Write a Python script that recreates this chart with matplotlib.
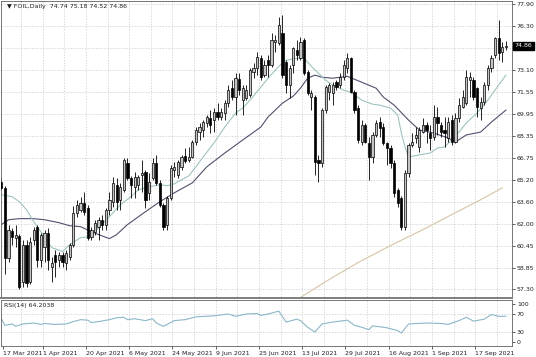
import matplotlib
matplotlib.use("Agg")
import matplotlib.pyplot as plt
from matplotlib.patches import Rectangle
import numpy as np

# ---------------- data ----------------
opens = [65.05, 64.62, 59.60, 61.53, 61.03, 61.18, 57.80, 60.53, 57.87, 60.89,
         61.82, 59.45, 60.39, 61.39, 58.88, 59.81, 59.45, 59.81, 59.24, 59.67,
         60.53, 62.83, 63.04, 63.55, 63.19, 61.10, 61.46, 61.82, 62.32, 61.97,
         63.04, 63.62, 64.84, 63.76, 64.48, 66.42, 65.34, 64.69, 64.84, 65.56,
         65.77, 64.26, 65.34, 66.42, 64.98, 63.40, 61.97, 63.90, 65.91, 65.56,
         66.13, 66.92, 66.63, 66.85, 67.92, 68.64, 68.79, 69.29, 69.65, 69.50,
         70.08, 69.72, 70.01, 70.72, 71.80, 71.16, 72.45, 70.94, 71.08, 71.30,
         72.95, 73.24, 73.96, 72.74, 73.81, 73.45, 75.10, 75.03, 75.75, 73.67,
         72.02, 73.45, 74.53, 73.96, 75.25, 72.95, 71.16, 71.16, 66.63, 66.42,
         70.22, 71.51, 71.44, 72.23, 72.02, 72.59, 73.24, 73.96, 71.51, 70.37,
         67.92, 69.15, 67.85, 66.85, 68.43, 69.36, 69.00, 67.85, 67.49, 66.42,
         64.48, 63.90, 61.82, 65.70, 67.71, 68.21, 67.57, 68.64, 69.15, 68.57,
         68.28, 69.72, 69.15, 68.79, 68.21, 69.50, 67.92, 69.65, 70.44, 70.72,
         72.38, 72.38, 71.80, 70.37, 70.80, 72.02, 73.24, 74.17, 75.39, 74.39,
         74.74]
highs = [65.41, 64.77, 61.97, 61.75, 61.97, 61.32, 60.89, 60.89, 61.10, 61.82,
         61.97, 61.39, 61.61, 61.75, 59.67, 60.17, 60.03, 60.03, 60.17, 60.67,
         63.33, 63.76, 63.98, 64.33, 63.40, 61.82, 62.32, 62.54, 62.68, 63.19,
         64.33, 65.41, 65.34, 64.98, 66.78, 66.78, 65.48, 65.77, 65.56, 66.63,
         65.91, 65.70, 66.78, 66.99, 65.20, 63.55, 64.05, 66.27, 66.49, 66.63,
         66.99, 67.49, 67.57, 68.07, 69.00, 69.29, 69.50, 69.86, 70.22, 70.37,
         70.72, 70.37, 70.94, 72.02, 72.38, 72.88, 72.88, 72.02, 72.02, 73.24,
         73.60, 74.39, 74.17, 73.81, 74.17, 75.75, 75.61, 76.90, 77.04, 73.81,
         73.45, 74.75, 75.25, 75.46, 75.39, 73.09, 71.66, 71.30, 66.99, 70.37,
         72.02, 72.16, 72.23, 72.38, 72.88, 73.81, 74.31, 74.03, 71.66, 70.58,
         69.50, 69.29, 68.28, 68.64, 69.50, 69.72, 69.29, 67.92, 67.71, 66.63,
         64.62, 64.05, 65.91, 67.85, 68.57, 69.00, 69.00, 69.65, 69.36, 69.15,
         70.58, 70.44, 69.36, 69.72, 69.72, 69.86, 70.01, 71.08, 71.66, 73.09,
         72.95, 72.59, 71.87, 71.16, 72.23, 73.45, 74.17, 75.46, 76.68, 75.10,
         75.18]
lows = [64.48, 58.38, 59.31, 60.53, 60.39, 57.30, 57.44, 57.44, 57.66, 60.53,
        58.88, 58.88, 59.31, 58.73, 57.80, 58.23, 58.95, 58.88, 58.73, 59.45,
        60.39, 62.54, 62.90, 62.68, 60.89, 60.89, 61.25, 60.89, 61.61, 61.61,
        62.68, 63.26, 63.04, 63.04, 64.33, 65.20, 63.90, 63.90, 64.48, 64.33,
        63.19, 63.76, 65.20, 64.84, 63.26, 61.61, 61.61, 63.76, 65.41, 65.34,
        65.91, 66.42, 66.49, 66.78, 67.71, 68.07, 68.28, 69.00, 68.57, 68.64,
        69.50, 69.50, 69.50, 70.44, 70.94, 69.86, 71.30, 69.86, 70.94, 71.16,
        72.52, 72.74, 72.38, 72.59, 72.59, 73.31, 74.39, 74.89, 72.52, 71.44,
        71.08, 72.88, 73.81, 73.81, 72.74, 71.30, 70.22, 65.56, 65.05, 66.13,
        70.01, 70.94, 70.58, 71.66, 71.80, 72.38, 72.88, 71.44, 70.01, 67.85,
        67.71, 67.85, 65.20, 66.42, 68.28, 68.28, 67.71, 66.27, 66.06, 63.98,
        63.26, 61.61, 61.61, 65.41, 67.57, 67.85, 67.21, 68.57, 67.85, 67.35,
        68.07, 68.43, 68.28, 67.57, 67.92, 67.71, 67.85, 69.36, 70.37, 70.58,
        71.16, 70.94, 69.72, 69.50, 70.58, 71.66, 72.95, 73.96, 73.81, 73.67,
        74.52]
closes = [64.62, 59.60, 61.61, 61.10, 61.25, 57.51, 60.53, 57.73, 60.74, 61.61,
          59.45, 61.25, 61.39, 59.45, 59.24, 59.31, 59.81, 59.31, 59.95, 60.53,
          62.83, 63.40, 63.55, 62.90, 61.03, 61.61, 62.11, 62.32, 61.97, 63.04,
          63.76, 64.98, 63.62, 64.69, 66.63, 65.34, 64.84, 65.41, 65.41, 65.70,
          63.76, 65.05, 66.42, 64.98, 63.40, 61.82, 63.90, 66.06, 66.13, 66.49,
          66.85, 66.56, 66.85, 67.92, 68.79, 69.00, 69.36, 69.72, 69.15, 70.08,
          69.72, 70.08, 70.72, 71.66, 71.16, 72.52, 71.66, 71.80, 71.66, 73.09,
          73.24, 74.03, 72.59, 73.45, 73.45, 75.25, 75.25, 76.33, 72.74, 72.02,
          73.24, 74.67, 74.17, 75.10, 72.88, 71.44, 71.44, 66.49, 66.42, 70.22,
          71.87, 72.02, 72.02, 71.87, 72.59, 73.45, 73.96, 71.51, 70.22, 68.07,
          69.15, 67.92, 66.85, 68.43, 69.29, 68.93, 67.85, 67.49, 66.42, 64.26,
          63.55, 61.82, 65.70, 67.71, 67.92, 68.43, 68.79, 69.15, 68.79, 68.21,
          69.72, 69.29, 68.64, 68.57, 69.36, 67.92, 69.65, 70.58, 71.16, 72.59,
          72.59, 71.16, 70.44, 70.80, 72.02, 73.24, 73.96, 75.39, 74.31, 74.75,
          74.86]

# moving averages (read at sample bars)
fast_ma_idx = [0, 3, 5, 7, 9, 12, 14, 17, 19, 22, 25, 27, 30, 33, 36, 38, 41, 44, 46, 48,
               50, 52, 54, 56, 59, 62, 65, 67, 69, 72, 74, 77, 79, 82, 84, 86, 88, 90, 92, 95,
               97, 100, 103, 105, 108, 110, 111, 112, 113, 116, 119, 121, 123, 125, 127, 129,
               132, 135, 137, 140]
fast_ma_val = [64.12, 63.98, 63.62, 63.04, 62.18, 61.10, 60.31, 60.03, 60.53, 61.03,
               61.10, 61.75, 62.54, 63.40, 63.98, 64.48, 64.69, 64.84, 64.77, 64.91,
               65.20, 65.48, 66.13, 66.85, 67.85, 69.00, 70.01, 70.37, 70.94, 71.87,
               72.52, 73.38, 73.81, 73.96, 73.96, 73.38, 72.88, 72.38, 72.02, 71.66,
               71.51, 70.94, 70.65, 70.58, 70.37, 69.86, 68.57, 67.57, 66.85, 66.99,
               67.13, 67.49, 67.57, 68.07, 68.64, 69.29, 70.01, 70.94, 71.66, 72.74]
slow_ma_idx = [0, 2, 5, 9, 12, 16, 19, 22, 25, 27, 30, 32, 35, 40, 44, 48, 53, 57, 62, 67,
               72, 74, 78, 81, 83, 85, 87, 89, 92, 96, 100, 104, 106, 109, 113, 116, 120, 124,
               126, 129, 133, 136, 140]
slow_ma_val = [61.97, 62.32, 62.40, 62.40, 62.32, 62.11, 61.89, 61.82, 61.46, 61.25,
               60.96, 61.25, 61.97, 62.90, 63.62, 64.26, 64.98, 66.13, 67.13, 68.07,
               69.00, 69.72, 70.72, 71.23, 71.80, 72.52, 72.74, 72.59, 72.52, 72.66,
               72.23, 71.80, 71.16, 70.58, 69.50, 68.79, 68.57, 68.21, 67.92, 68.43,
               68.64, 69.36, 70.22]
long_ma_idx = [80, 83, 91, 99, 108, 117, 126, 133, 139]
long_ma_val = [56.22, 56.72, 58.02, 59.24, 60.46, 61.61, 62.83, 63.76, 64.62]

rsi_idx = [0, 1, 3, 4, 6, 9, 11, 12, 15, 18, 20, 22, 24, 25, 27, 30, 32, 34, 35, 37,
           40, 42, 43, 45, 48, 51, 54, 59, 63, 65, 68, 71, 72, 74, 77, 79, 82, 83, 85, 87,
           89, 92, 96, 98, 100, 102, 103, 107, 110, 111, 113, 118, 122, 124, 127, 129, 131,
           134, 136, 138, 140]
rsi_val = [59.5, 45, 48, 43, 48, 50, 47, 49, 47, 48, 53, 57, 56, 51, 53, 57, 61, 62, 57, 59,
           55, 59, 50, 43, 55, 57, 63, 65, 69, 64, 69, 70, 66, 69, 75, 52, 58, 55, 41, 31,
           48, 52, 56, 45, 41, 36, 44, 40, 34, 29, 48, 50, 49, 47, 55, 62, 54,
           58, 68, 64, 64.2038]

price_ticks = [77.90, 76.30, 74.70, 73.10, 71.55, 69.95, 68.35, 66.75, 65.20, 63.60,
               62.00, 60.45, 58.85, 57.30]
date_label_idx = [0, 11, 23, 35, 47, 59, 71, 83, 95, 107, 119, 131]
date_labels = ["17 Mar 2021", "1 Apr 2021", "20 Apr 2021", "6 May 2021", "24 May 2021",
               "9 Jun 2021", "25 Jun 2021", "13 Jul 2021", "29 Jul 2021", "16 Aug 2021",
               "1 Sep 2021", "17 Sep 2021"]
symbol_title = "FOIL,Daily  74.74 75.18 74.52 74.86"
rsi_title = "RSI(14) 64.2038"
last_price = 74.86

# ---------------- figure ----------------
W, H = 536, 357
fig = plt.figure(figsize=(W / 100, H / 100), dpi=100)
fig.patch.set_facecolor("white")


def rect(x0, y0, x1, y1):
    return [x0 / W, 1 - y1 / H, (x1 - x0) / W, (y1 - y0) / H]


ax = fig.add_axes(rect(0.5, 0.5, 512, 296.5))
rx = fig.add_axes(rect(0.5, 299.5, 512, 345.5), sharex=ax)

n = len(closes)
x = np.arange(n)
FS = 4.5
TXT = "#202020"
GRID = "#c8c8c8"

# grid
vgrid = np.arange(-0.5, n + 1, 6) + 0.0
for a in (ax, rx):
    for g in vgrid:
        a.axvline(g, color=GRID, lw=0.5, ls=(0, (2, 2)), zorder=0)
for p in price_ticks:
    ax.axhline(p, color=GRID, lw=0.5, ls=(0, (2, 2)), zorder=0)
for r in (70, 30):
    rx.axhline(r, color=GRID, lw=0.5, ls=(0, (2, 2)), zorder=0)

# moving averages
ax.plot(long_ma_idx, long_ma_val, color="#d8c4a4", lw=0.8, zorder=1)
ax.plot(slow_ma_idx, slow_ma_val, color="#50506e", lw=0.8, zorder=1)
ax.plot(fast_ma_idx, fast_ma_val, color="#9cc4c0", lw=0.8, zorder=1)

# candles
o = np.array(opens); c = np.array(closes); h = np.array(highs); l = np.array(lows)
bull = c >= o
ax.vlines(x, l, h, color="#000000", lw=0.6, zorder=2)
bottom = np.minimum(o, c)
height = np.maximum(np.abs(c - o), 0.04)
ax.bar(x[bull], height[bull], bottom=bottom[bull], width=0.62,
       facecolor="#c4c4c4", edgecolor="#000000", linewidth=0.5, zorder=3)
ax.bar(x[~bull], height[~bull], bottom=bottom[~bull], width=0.62,
       facecolor="#000000", edgecolor="#000000", linewidth=0.5, zorder=3)

ax.set_xlim(-0.22, 141.7)
ax.set_ylim(56.79, 78.12)

# RSI
rx.plot(rsi_idx, rsi_val, color="#8ab8c8", lw=0.8)
rx.set_ylim(2.6, 99.5)

# axes styling
for a in (ax, rx):
    a.set_facecolor("white")
    for s in a.spines.values():
        s.set_color("#606060")
        s.set_linewidth(0.6)
    a.yaxis.tick_right()
    a.tick_params(axis="y", length=2, width=0.5, pad=1.5, labelsize=FS,
                  colors=TXT, direction="out")

ax.set_yticks(price_ticks)
ax.set_yticklabels([("" if abs(p - 74.70) < 1e-6 else f"{p:.2f}") for p in price_ticks])
ax.tick_params(axis="x", bottom=False, labelbottom=False)

rx.set_yticks([91, 70, 30, 9])
rx.set_yticklabels(["100", "70", "30", "0"])
rx.set_xticks([i + 0.5 for i in date_label_idx])
rx.set_xticklabels(date_labels, ha="left")
rx.tick_params(axis="x", length=2, width=0.5, pad=2, labelsize=FS, colors=TXT)

# separator bar between panels
fig.patches.append(Rectangle((0, 1 - 299.3 / H), 512.5 / W, 2.6 / H,
                             transform=fig.transFigure, facecolor="#808080",
                             edgecolor="none"))

# titles
ax.text(0.012, 0.987, "\u25BC " + symbol_title, transform=ax.transAxes, ha="left",
        va="top", fontsize=FS, color=TXT)
rx.text(0.006, 0.93, rsi_title, transform=rx.transAxes, ha="left", va="top",
        fontsize=FS, color=TXT)

# last price box
ax.annotate(f"{last_price:.2f}", xy=(1.0, last_price), xycoords=("axes fraction", "data"),
            xytext=(2, 0), textcoords="offset points", ha="left", va="center",
            fontsize=FS, color="white",
            bbox=dict(boxstyle="square,pad=0.25", facecolor="black", edgecolor="black"),
            annotation_clip=False)

fig.savefig("out.png", dpi=100)
